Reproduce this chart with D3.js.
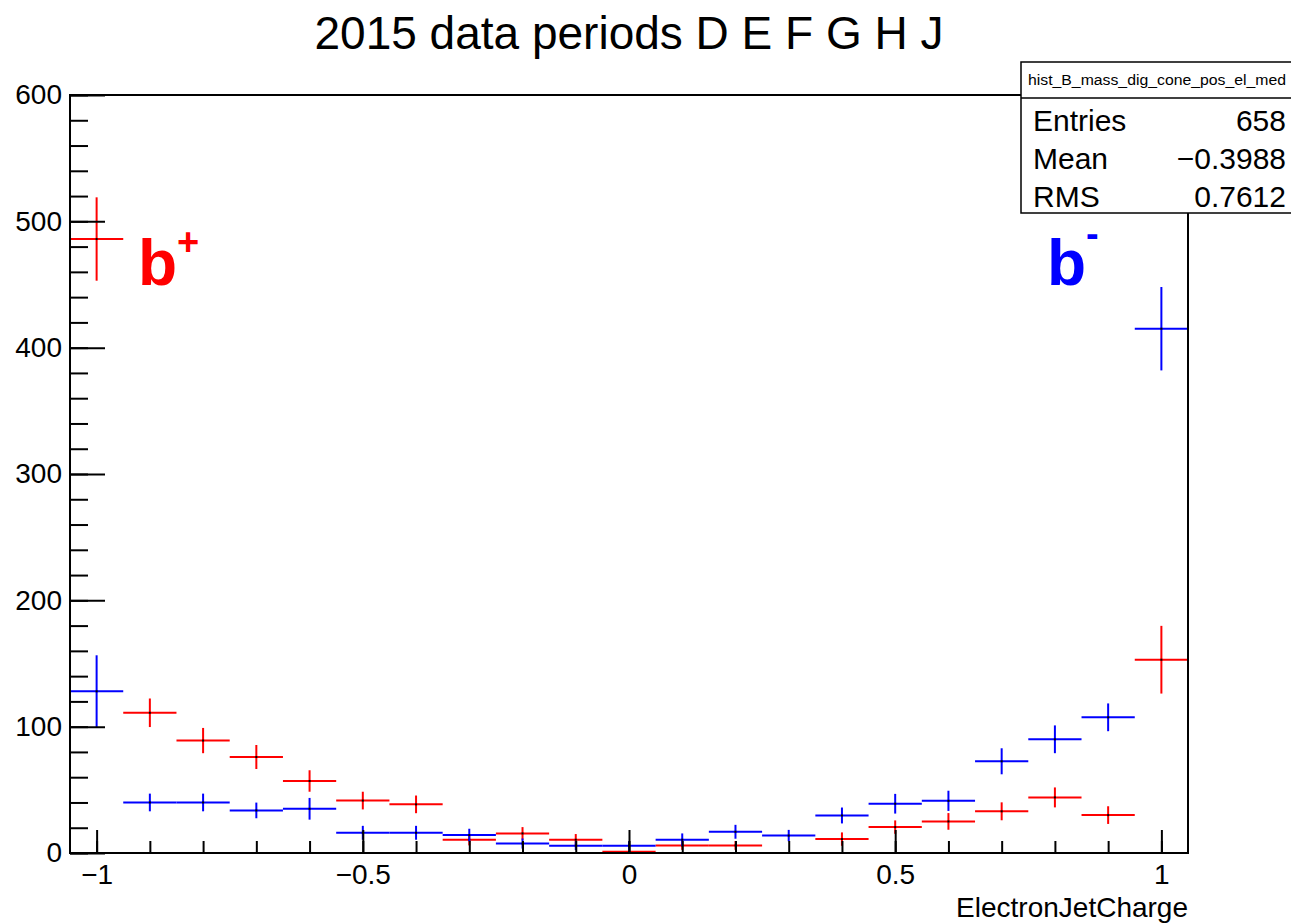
<!DOCTYPE html>
<html>
<head>
<meta charset="utf-8">
<script src="https://cdn.jsdelivr.net/npm/d3@7"></script>
<style>
  body { margin: 0; background: #fff; }
  text { font-family: "Liberation Sans", Arial, Helvetica, sans-serif; }
</style>
</head>
<body>
<svg id="chart" width="1291" height="923"></svg>
<script>
// bin centres of ElectronJetCharge (bin width 0.1)
var binCenters = [-1, -0.9, -0.8, -0.7, -0.6, -0.5, -0.4, -0.3, -0.2, -0.1, 0,
                  0.1, 0.2, 0.3, 0.4, 0.5, 0.6, 0.7, 0.8, 0.9, 1];

// b+ (red)
var bPlusCounts = [486, 111, 89, 76, 57, 41.5, 38.5, 10.5, 15.5, 10.5, 1,
                   6, 6, 0, 11, 20.5, 25, 33, 44, 30, 153];
var bPlusErrors = [33, 11.3, 10, 9.5, 8.5, 7, 7, 4.5, 5, 4.5, 1.5,
                   3.5, 3.5, 0, 5.3, 5.3, 6.6, 7.1, 7.9, 7, 26.8];

// b- (blue)
var bMinusCounts = [128, 40, 40, 33.7, 35, 16, 16, 14.2, 7.5, 5.8, 5.8,
                    10.5, 16.8, 13.8, 29.7, 39, 41.3, 72.6, 90, 107.4, 415];
var bMinusErrors = [28.5, 7, 7, 6.2, 8.6, 5.5, 5.5, 5, 4, 3.5, 3.5,
                    5, 5.5, 4.5, 6.3, 7.8, 8, 10.3, 11, 11, 33];

var xMajorTicks = [-1, -0.5, 0, 0.5, 1];
var yMajorTicks = [0, 100, 200, 300, 400, 500, 600];

var statsTitle = "hist_B_mass_dig_cone_pos_el_med";
var statsRows = [["Entries", "658"], ["Mean", "\u22120.3988"], ["RMS", "0.7612"]];

var binWidth = 0.1;

var svg = d3.select("#chart"),
    frame = { left: 70, right: 1188, top: 95, bottom: 853 };

svg.append("rect").attr("width", 1291).attr("height", 923).attr("fill", "#fff");

var x = d3.scaleLinear().domain([-1.05, 1.05]).range([frame.left, frame.right]);
var y = d3.scaleLinear().domain([0, 600]).range([frame.bottom, frame.top]);

// histograms drawn as error crosses
function drawHist(counts, errors, color) {
  var data = binCenters.map(function(c, i) {
    return { c: c, v: counts[i], e: errors[i] };
  }).filter(function(d) { return d.v > 0; });

  var g = svg.append("g")
      .attr("stroke", color)
      .attr("stroke-width", 2);

  g.selectAll(".h").data(data).enter().append("line")
      .attr("x1", function(d) { return x(d.c - binWidth / 2); })
      .attr("x2", function(d) { return x(d.c + binWidth / 2); })
      .attr("y1", function(d) { return y(d.v); })
      .attr("y2", function(d) { return y(d.v); });

  g.selectAll(".v").data(data).enter().append("line")
      .attr("x1", function(d) { return x(d.c); })
      .attr("x2", function(d) { return x(d.c); })
      .attr("y1", function(d) { return y(Math.max(0, d.v - d.e)); })
      .attr("y2", function(d) { return y(d.v + d.e); });

  svg.append("g").selectAll("rect").data(data).enter().append("rect")
      .attr("x", function(d) { return x(d.c) - 1; })
      .attr("y", function(d) { return y(d.v) - 1; })
      .attr("width", 2).attr("height", 2)
      .attr("fill", "#000");
}

drawHist(bPlusCounts, bPlusErrors, "#ff0000");
drawHist(bMinusCounts, bMinusErrors, "#0000ff");

// frame
svg.append("rect")
    .attr("x", frame.left).attr("y", frame.top)
    .attr("width", frame.right - frame.left)
    .attr("height", frame.bottom - frame.top)
    .attr("fill", "none").attr("stroke", "#000").attr("stroke-width", 2);

var fmt = d3.format("");

// x axis: minor then major ticks pointing inward
var xMinor = svg.append("g")
    .attr("transform", "translate(0," + frame.bottom + ")")
    .call(d3.axisBottom(x).tickValues(binCenters).tickSize(-12).tickFormat(""));
var xMajor = svg.append("g")
    .attr("transform", "translate(0," + frame.bottom + ")")
    .call(d3.axisBottom(x).tickValues(xMajorTicks).tickSize(-23).tickPadding(11).tickFormat(fmt));

// y axis
var yMinor = svg.append("g")
    .attr("transform", "translate(" + frame.left + ",0)")
    .call(d3.axisLeft(y).tickValues(d3.range(0, 601, 20)).tickSize(-18).tickFormat(""));
var yMajor = svg.append("g")
    .attr("transform", "translate(" + frame.left + ",0)")
    .call(d3.axisLeft(y).tickValues(yMajorTicks).tickSize(-35).tickPadding(8).tickFormat(fmt));

[xMinor, xMajor, yMinor, yMajor].forEach(function(a) {
  a.select(".domain").remove();
  a.selectAll(".tick line").attr("stroke", "#000").attr("stroke-width", 2);
  a.selectAll(".tick text")
      .attr("fill", "#000")
      .style("font-size", "28px")
      .style("font-family", "'Liberation Sans', Arial, sans-serif");
});

// axis title
svg.append("text")
    .attr("x", frame.right).attr("y", 917)
    .attr("text-anchor", "end")
    .style("font-size", "28px")
    .text("ElectronJetCharge");

// title
svg.append("text")
    .attr("x", 629).attr("y", 49)
    .attr("text-anchor", "middle")
    .style("font-size", "46px")
    .text("2015 data periods D E F G H J");

// b+ / b- labels
var bp = svg.append("text").attr("x", 138).attr("y", 285)
    .attr("fill", "#ff0000").style("font-weight", "bold").style("font-size", "64px");
bp.append("tspan").text("b");
bp.append("tspan").attr("dy", -30).style("font-size", "38px").text("+");

var bm = svg.append("text").attr("x", 1047).attr("y", 285)
    .attr("fill", "#0000ff").style("font-weight", "bold").style("font-size", "64px");
bm.append("tspan").text("b");
bm.append("tspan").attr("dy", -38).style("font-size", "38px").text("-");

// stats box
var box = svg.append("g");
box.append("rect")
    .attr("x", 1021).attr("y", 62).attr("width", 290).attr("height", 151)
    .attr("fill", "#fff").attr("stroke", "#000").attr("stroke-width", 1.5);
box.append("line")
    .attr("x1", 1021).attr("x2", 1291).attr("y1", 98).attr("y2", 98)
    .attr("stroke", "#000").attr("stroke-width", 1.5);
box.append("text")
    .attr("x", 1157).attr("y", 85)
    .attr("text-anchor", "middle")
    .attr("textLength", 258).attr("lengthAdjust", "spacingAndGlyphs")
    .style("font-size", "14px")
    .text(statsTitle);

box.selectAll(".lab").data(statsRows).enter().append("text")
    .attr("x", 1033)
    .attr("y", function(d, i) { return 131 + i * 38; })
    .style("font-size", "30px")
    .text(function(d) { return d[0]; });
box.selectAll(".val").data(statsRows).enter().append("text")
    .attr("x", 1286)
    .attr("y", function(d, i) { return 131 + i * 38; })
    .attr("text-anchor", "end")
    .style("font-size", "30px")
    .text(function(d) { return d[1]; });
</script>
</body>
</html>
